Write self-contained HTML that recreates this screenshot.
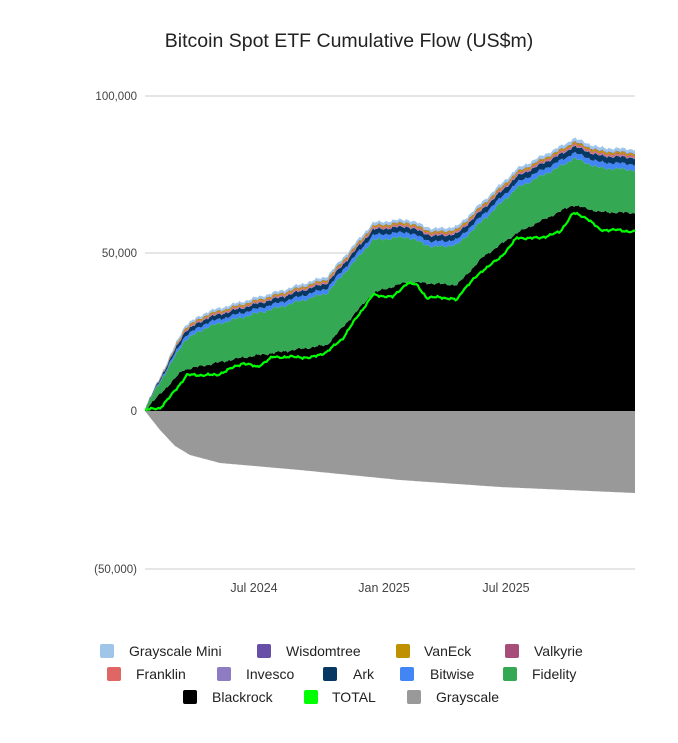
<!DOCTYPE html>
<html><head><meta charset="utf-8"><style>
html,body{margin:0;padding:0;background:#fff;width:678px;height:743px;overflow:hidden}
svg text{font-family:"Liberation Sans",Arial,sans-serif}
</style></head><body>
<svg id="c" width="678" height="743" xmlns="http://www.w3.org/2000/svg">
<rect width="678" height="743" fill="#fff"/>
<text x="349" y="47" font-size="19.5" text-anchor="middle" fill="#222">Bitcoin Spot ETF Cumulative Flow (US$m)</text>
<line x1="145" y1="96" x2="635" y2="96" stroke="#ccc"/>
<line x1="145" y1="253" x2="635" y2="253" stroke="#ccc"/>
<line x1="145" y1="569" x2="635" y2="569" stroke="#ccc"/>
<g font-size="11.5" fill="#444" text-anchor="end">
<text x="137" y="100">100,000</text>
<text x="137" y="257">50,000</text>
<text x="137" y="415">0</text>
<text x="137" y="573">(50,000)</text>
</g>
<g font-size="12.5" fill="#444" text-anchor="middle">
<text x="254" y="592">Jul 2024</text>
<text x="384" y="592">Jan 2025</text>
<text x="506" y="592">Jul 2025</text>
</g>
<g id="plot"></g>
<g font-size="14" fill="#222">
<rect x="100" y="644" width="14" height="14" rx="2" fill="#9fc5e8"/><text x="129" y="656">Grayscale Mini</text>
<rect x="257" y="644" width="14" height="14" rx="2" fill="#674ea7"/><text x="286" y="656">Wisdomtree</text>
<rect x="396" y="644" width="14" height="14" rx="2" fill="#bf9000"/><text x="424" y="656">VanEck</text>
<rect x="505" y="644" width="14" height="14" rx="2" fill="#a64d79"/><text x="534" y="656">Valkyrie</text>
<rect x="107" y="667" width="14" height="14" rx="2" fill="#e06666"/><text x="136" y="679">Franklin</text>
<rect x="217" y="667" width="14" height="14" rx="2" fill="#8e7cc3"/><text x="246" y="679">Invesco</text>
<rect x="323" y="667" width="14" height="14" rx="2" fill="#073763"/><text x="353" y="679">Ark</text>
<rect x="400" y="667" width="14" height="14" rx="2" fill="#4285f4"/><text x="430" y="679">Bitwise</text>
<rect x="503" y="667" width="14" height="14" rx="2" fill="#34a853"/><text x="532" y="679">Fidelity</text>
<rect x="183" y="690" width="14" height="14" rx="2" fill="#000"/><text x="212" y="702">Blackrock</text>
<rect x="304" y="690" width="14" height="14" rx="2" fill="#00ff00"/><text x="332" y="702">TOTAL</text>
<rect x="407" y="690" width="14" height="14" rx="2" fill="#999"/><text x="436" y="702">Grayscale</text>
</g>
</svg>
<script>
(function(){
function f(p,x){for(var i=0;i<p.length-1;i++){if(x<=p[i+1][0]){var t=(x-p[i][0])/(p[i+1][0]-p[i][0]);return p[i][1]+t*(p[i+1][1]-p[i][1]);}}return p[p.length-1][1];}
var BR=[[145,410],[183,370],[240,358],[327,345],[373,293],[407,282],[457,285],[483,257],[517,233],[573,205],[600,212],[635,213]];
var FI=[[145,408],[167,370],[185,340],[207,327],[243,317],[280,307],[327,293],[347,270],[373,240],[407,237],[433,247],[457,245],[483,220],[517,188],[567,163],[573,158],[600,168],[635,170]];
var TO=[[145,410],[160,408],[170,397],[187,375],[217,375],[243,363],[257,367],[273,357],[300,357],[310,358],[327,352],[343,338],[357,317],[373,295],[393,297],[407,283],[417,285],[427,298],[440,297],[457,300],[463,290],[483,270],[500,258],[517,238],[540,238],[560,232],[573,213],[587,218],[600,230],[617,230],[635,232]];
var GS=[[145,411],[160,430],[175,446],[190,455],[220,463],[300,470],[400,480],[500,487],[635,493]];
var xs=[];for(var x=145;x<=635;x+=1.5)xs.push(x);if(xs[xs.length-1]<635)xs.push(635);
function nz(x){return Math.sin(x*0.9)*0.9+Math.sin(x*2.3)*0.6+Math.sin(x*0.31)*0.8;}
var br=xs.map(function(x){return f(BR,x)+nz(x)*0.8;});
var fi=xs.map(function(x){return f(FI,x)+nz(x+3);});
var offs=[4.5,9.5,10,11,11.5,13,13.4,16];
var cols=["#4285f4","#073763","#8e7cc3","#e06666","#a64d79","#bf9000","#674ea7","#9fc5e8"];
var svg='';
function poly(top,bot,col){var s='';for(var i=0;i<xs.length;i++)s+=xs[i].toFixed(1)+','+top[i].toFixed(1)+' ';for(var i=xs.length-1;i>=0;i--)s+=xs[i].toFixed(1)+','+bot[i].toFixed(1)+' ';return '<polygon points="'+s+'" fill="'+col+'"/>';}
var base=xs.map(function(){return 411;});
svg+=poly(xs.map(function(x){return f(GS,x);}),xs.map(function(){return 411;}),'#999');
svg+=poly(br,base,'#000');
svg+=poly(fi,br,'#34a853');
var prev=fi;
for(var k=0;k<offs.length;k++){var cur=xs.map(function(x,i){var fac=Math.min(1,(x-145)/40)*(0.9+0.4*(x-145)/490);return fi[i]-offs[k]*fac;});svg+=poly(cur,prev,cols[k]);prev=cur;}
var s='';for(var i=0;i<xs.length;i++)s+=xs[i].toFixed(1)+','+(f(TO,xs[i])+nz(xs[i]+7)*0.7).toFixed(1)+' ';
svg+='<polyline points="'+s+'" fill="none" stroke="#00ff00" stroke-width="2.2"/>';
document.getElementById('plot').innerHTML=svg;
})();
</script>
</body></html>
